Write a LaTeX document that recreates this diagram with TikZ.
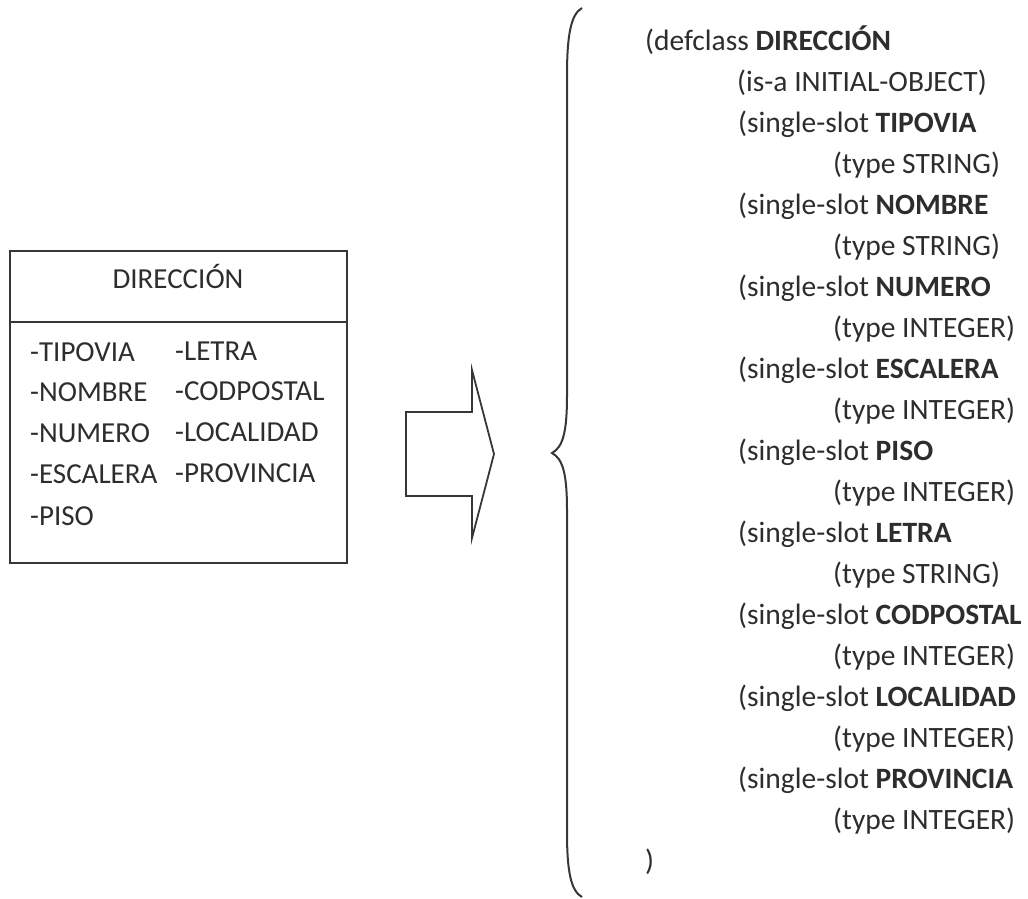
\documentclass[tikz,border=0pt]{standalone}
\usepackage{fontspec}
\setmainfont{Carlito}
\definecolor{ink}{RGB}{45,45,45}
\definecolor{edge}{RGB}{55,55,55}
\tikzset{
  code/.style={anchor=base west, inner sep=0pt, text=ink, font=\fontsize{29.5}{33}\selectfont},
  attr/.style={anchor=base west, inner sep=0pt, text=ink, font=\fontsize{29}{33}\selectfont},
  title/.style={anchor=base, inner sep=0pt, text=ink, font=\fontsize{29}{33}\selectfont},
  outline/.style={draw=edge, line width=2pt},
}
\begin{document}
\begin{tikzpicture}[x=1pt,y=-1pt]
\useasboundingbox (0,0) rectangle (1028,898);
% class box
\draw[outline] (9.5,251) rectangle (347,563);
\draw[outline] (9.5,322) -- (347,322);
\node[title] (cls) at (178,288) {DIRECCIÓN};
\node[attr] (a1) at (30,361) {-TIPOVIA};
\node[attr] (a2) at (30,401) {-NOMBRE};
\node[attr] (a3) at (30,442) {-NUMERO};
\node[attr] (a4) at (30,483) {-ESCALERA};
\node[attr] (a5) at (30,525) {-PISO};
\node[attr] (b1) at (175,360) {-LETRA};
\node[attr] (b2) at (175,400) {-CODPOSTAL};
\node[attr] (b3) at (175,441) {-LOCALIDAD};
\node[attr] (b4) at (175,482) {-PROVINCIA};
% block arrow
\draw[draw=edge, line width=1.8pt, line join=miter]
  (406,412) -- (472,412) -- (472,370) -- (494,454) -- (472,538) -- (472,496) -- (406,496) -- cycle;
% brace
\draw[draw=edge, line width=2pt]
  (582,8) .. controls (571,14) and (567,35) .. (567,75) -- (567,395)
  .. controls (567,432) and (563,447) .. (552,453)
  .. controls (563,459) and (567,474) .. (567,511) -- (567,832)
  .. controls (567,872) and (571,891) .. (582,897);
% code
\node[code] (l0) at (645,50) {(defclass \textbf{DIRECCIÓN}};
\node[code] (l1) at (737,91) {(is-a INITIAL-OBJECT)};
\node[code] (l2) at (738,132) {(single-slot \textbf{TIPOVIA}};
\node[code] (l3) at (833,173) {(type STRING)};
\node[code] (l4) at (738,214) {(single-slot \textbf{NOMBRE}};
\node[code] (l5) at (833,255) {(type STRING)};
\node[code] (l6) at (738,296) {(single-slot \textbf{NUMERO}};
\node[code] (l7) at (833,337) {(type INTEGER)};
\node[code] (l8) at (738,378) {(single-slot \textbf{ESCALERA}};
\node[code] (l9) at (833,419) {(type INTEGER)};
\node[code] (l10) at (738,460) {(single-slot \textbf{PISO}};
\node[code] (l11) at (833,501) {(type INTEGER)};
\node[code] (l12) at (738,542) {(single-slot \textbf{LETRA}};
\node[code] (l13) at (833,583) {(type STRING)};
\node[code] (l14) at (738,624) {(single-slot \textbf{CODPOSTAL}};
\node[code] (l15) at (833,665) {(type INTEGER)};
\node[code] (l16) at (738,706) {(single-slot \textbf{LOCALIDAD}};
\node[code] (l17) at (833,747) {(type INTEGER)};
\node[code] (l18) at (738,788) {(single-slot \textbf{PROVINCIA}};
\node[code] (l19) at (833,829) {(type INTEGER)};
\node[code] (l20) at (645,870) {)};
\end{tikzpicture}
\end{document}
